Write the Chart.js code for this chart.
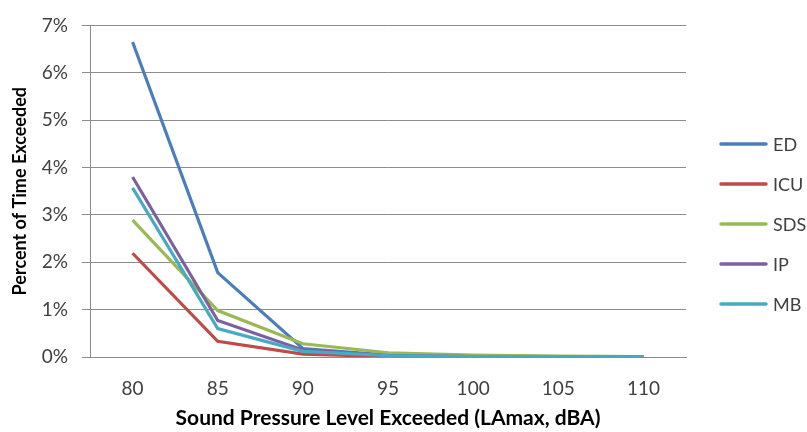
<!DOCTYPE html>
<html lang="en">
<head>
    <meta charset="UTF-8">
    <title>Percent of Time Exceeded</title>
    <script src="https://cdn.jsdelivr.net/npm/chart.js"></script>
    <style>
        html, body { margin: 0; padding: 0; background: #fff; }
        #wrap { width: 807px; height: 432px; }
    </style>
</head>
<body>
    <div id="wrap"><canvas id="spl"></canvas></div>

    <script>
        // Sound pressure level thresholds (dBA)
        const levels = ['80', '85', '90', '95', '100', '105', '110'];

        // Percent of time each unit exceeded the level
        const ed  = [6.65, 1.78, 0.18, 0.04, 0.02, 0.01, 0.00];
        const icu = [2.19, 0.33, 0.06, 0.01, 0.00, 0.00, 0.00];
        const sds = [2.89, 0.98, 0.28, 0.09, 0.04, 0.02, 0.01];
        const ip  = [3.80, 0.77, 0.15, 0.03, 0.01, 0.00, 0.00];
        const mb  = [3.57, 0.60, 0.12, 0.03, 0.01, 0.01, 0.00];

        const units = ['ED', 'ICU', 'SDS', 'IP', 'MB'];
        const colors = ['#4a7ebb', '#be4b48', '#98b954', '#7d60a0', '#46aac5'];
        const yTicks = [0, 1, 2, 3, 4, 5, 6, 7];

        const FONT = 'Lato, "Liberation Sans", sans-serif';
        const TEXT = '#404040';
        const GRID = '#8c8c8c';

        // legend drawn at the right of the plot, one line sample per unit
        const sideLegend = {
            id: 'sideLegend',
            afterDraw(chart) {
                const ctx = chart.ctx;
                ctx.save();
                ctx.font = '18px ' + FONT;
                ctx.textBaseline = 'middle';
                ctx.lineWidth = 3.5;
                ctx.lineCap = 'round';
                chart.data.datasets.forEach((ds, i) => {
                    const y = 144 + i * 40;
                    ctx.strokeStyle = ds.borderColor;
                    ctx.beginPath();
                    ctx.moveTo(721, y);
                    ctx.lineTo(766, y);
                    ctx.stroke();
                    ctx.fillStyle = TEXT;
                    ctx.fillText(ds.label, 773, y + 1);
                });
                ctx.restore();
            }
        };

        const series = [ed, icu, sds, ip, mb];

        new Chart(document.getElementById('spl').getContext('2d'), {
            type: 'line',
            data: {
                labels: levels,
                datasets: series.map((values, i) => ({
                    label: units[i],
                    data: values,
                    borderColor: colors[i],
                    backgroundColor: colors[i],
                    borderWidth: 3.2,
                    pointRadius: 0,
                    tension: 0,
                    fill: false,
                    order: units.length - i
                }))
            },
            options: {
                responsive: true,
                maintainAspectRatio: false,
                animation: false,
                layout: { padding: { top: 15, right: 121, left: 0, bottom: 0 } },
                plugins: {
                    legend: { display: false },
                    tooltip: { enabled: false }
                },
                scales: {
                    x: {
                        offset: true,
                        grid: { display: false },
                        border: { display: true, color: GRID },
                        ticks: { color: TEXT, font: { family: FONT, size: 19 }, padding: 12 },
                        title: {
                            display: true,
                            text: 'Sound Pressure Level Exceeded (LAmax, dBA)',
                            color: '#000',
                            font: { family: FONT, size: 21, weight: 'bold' },
                            padding: { top: 0, bottom: 1 }
                        },
                        afterFit(scale) { scale.height = 75; }
                    },
                    y: {
                        min: 0,
                        max: 7,
                        afterBuildTicks(scale) { scale.ticks = yTicks.map(v => ({ value: v })); },
                        grid: { color: GRID, tickLength: 8, tickColor: GRID },
                        border: { display: true, color: GRID },
                        ticks: {
                            color: TEXT,
                            font: { family: FONT, size: 19 },
                            padding: 14,
                            callback: v => v + '%'
                        },
                        title: {
                            display: true,
                            text: 'Percent of Time Exceeded',
                            color: '#000',
                            font: { family: FONT, size: 18, weight: 'bold' },
                            padding: { top: 9, bottom: 0 }
                        },
                        afterFit(scale) { scale.width = 90; }
                    }
                }
            },
            plugins: [sideLegend]
        });
    </script>
</body>
</html>
